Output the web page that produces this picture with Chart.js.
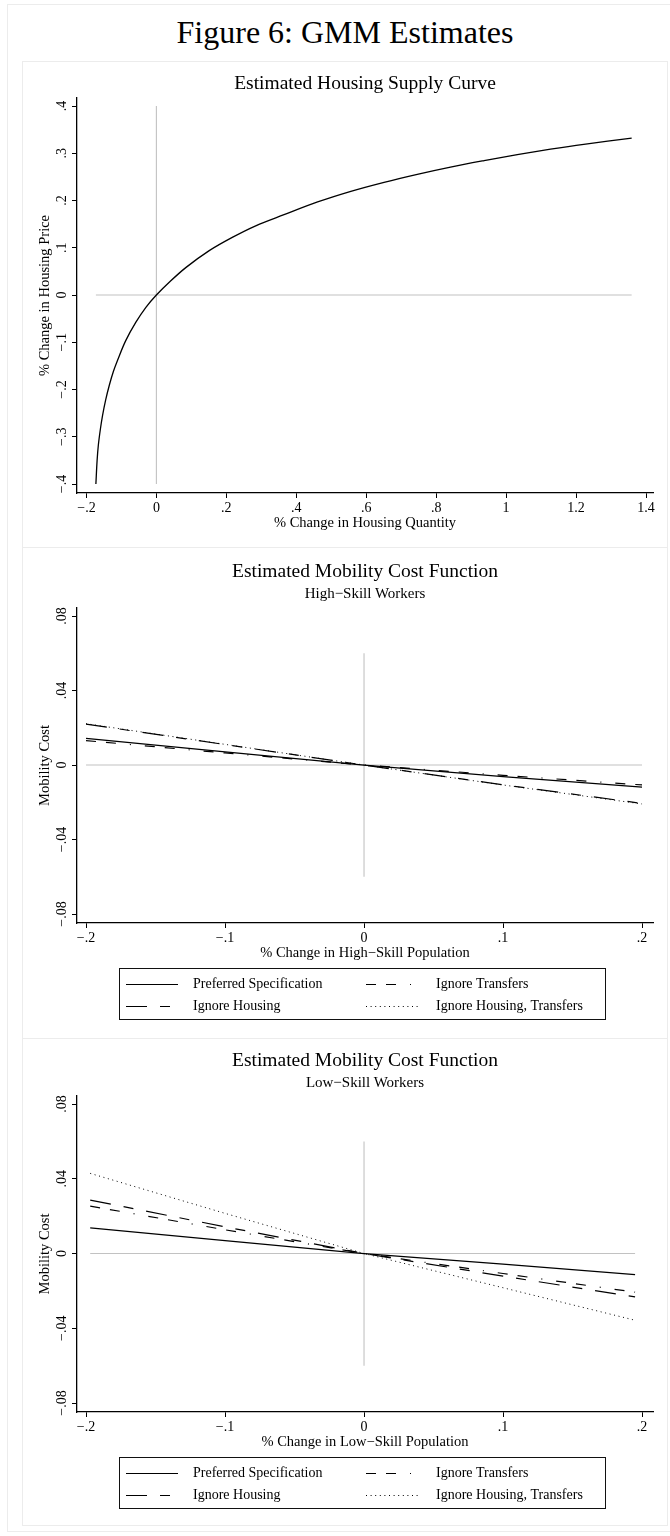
<!DOCTYPE html>
<html><head><meta charset="utf-8">
<script src="https://cdn.jsdelivr.net/npm/chart.js@4.4.1/dist/chart.umd.min.js"></script>
<style>
html,body{margin:0;padding:0;background:#fff;}
body{width:670px;height:1536px;position:relative;overflow:hidden;font-family:'Liberation Serif','Times New Roman',serif;color:#000;}
.frame{position:absolute;left:7px;top:4px;width:700px;height:1526px;border:1px solid #ececec;}
.panel{position:absolute;left:22px;width:646px;border:1px solid #ececec;box-sizing:border-box;background:#fff;}
canvas{position:absolute;left:22px;}
.t{position:absolute;white-space:nowrap;text-align:center;line-height:1;}
.main{left:22px;width:646px;top:16px;font-size:32px;}
.pt{left:77px;width:576px;font-size:19.5px;}
.st{left:77px;width:576px;font-size:15px;}
</style></head><body>
<div class="frame"></div>
<div class="t main">Figure 6: GMM Estimates</div>
<div class="panel" style="top:61px;height:487px"></div>
<div class="panel" style="top:547px;height:492px"></div>
<div class="panel" style="top:1038px;height:488px"></div>
<canvas id="c1" width="646" height="486" style="top:61px"></canvas>
<canvas id="c2" width="646" height="491" style="top:547px"></canvas>
<canvas id="c3" width="646" height="487" style="top:1038px"></canvas>
<div class="t pt" style="top:73px">Estimated Housing Supply Curve</div>
<div class="t pt" style="top:561px">Estimated Mobility Cost Function</div>
<div class="t st" style="top:586px">High−Skill Workers</div>
<div class="t pt" style="top:1050px">Estimated Mobility Cost Function</div>
<div class="t st" style="top:1075px">Low−Skill Workers</div>
<script>
// ---------- Data ----------
// Panel 1: housing supply curve
const SUPPLY_QTY   = [-0.173, -0.1695, -0.166, -0.16, -0.154, -0.145, -0.135, -0.123, -0.111, -0.088, -0.059, -0.030, 0, 0.036, 0.084, 0.150, 0.217, 0.284, 0.365, 0.461, 0.556, 0.651, 0.746, 0.841, 0.937, 1.032, 1.127, 1.222, 1.359];
const SUPPLY_PRICE = [-0.4, -0.35, -0.318, -0.283, -0.255, -0.222, -0.192, -0.162, -0.138, -0.097, -0.058, -0.026, 0, 0.0265, 0.058, 0.0935, 0.122, 0.1465, 0.170, 0.197, 0.2195, 0.2386, 0.2555, 0.2708, 0.2845, 0.2972, 0.3087, 0.319, 0.332];
const SUPPLY_HREF_X = [-0.173, 1.359];
const SUPPLY_VREF_Y = [-0.4, 0.4];
const SUPPLY_X_TICKS  = [-0.2, 0, 0.2, 0.4, 0.6, 0.8, 1, 1.2, 1.4];
const SUPPLY_X_LABELS = ['−.2', '0', '.2', '.4', '.6', '.8', '1', '1.2', '1.4'];
const SUPPLY_Y_TICKS  = [-0.4, -0.3, -0.2, -0.1, 0, 0.1, 0.2, 0.3, 0.4];
const SUPPLY_Y_LABELS = ['−.4', '−.3', '−.2', '−.1', '0', '.1', '.2', '.3', '.4'];

// Series names (legend order)
const SERIES_LABELS = ['Preferred Specification', 'Ignore Transfers', 'Ignore Housing', 'Ignore Housing, Transfers'];

// Panel 2: high-skill mobility cost
const HS_POP = [-0.2, -0.1, 0, 0.1, 0.2];
const HS_PREFERRED         = [0.0143, 0.0071, 0, -0.0062, -0.0119];
const HS_IGNORE_TRANSFERS  = [0.0131, 0.0065, 0, -0.0055, -0.0107];
const HS_IGNORE_HOUSING    = [0.0220, 0.0110, 0, -0.0106, -0.0206];
const HS_IGNORE_BOTH       = [0.0222, 0.0111, 0, -0.0107, -0.0209];
const HS_HREF_X = [-0.2, 0.2];

// Panel 3: low-skill mobility cost
const LS_POP = [-0.197, -0.1, 0, 0.1, 0.195];
const LS_PREFERRED         = [0.01375, 0.0069, 0, -0.0057, -0.0113];
const LS_IGNORE_TRANSFERS  = [0.0254, 0.0127, 0, -0.0107, -0.0207];
const LS_IGNORE_HOUSING    = [0.0286, 0.0143, 0, -0.0121, -0.0232];
const LS_IGNORE_BOTH       = [0.0429, 0.0215, 0, -0.0183, -0.0357];
const LS_HREF_X = [-0.197, 0.195];

const MOB_VREF_Y = [-0.06, 0.06];
const MOB_X_TICKS  = [-0.2, -0.1, 0, 0.1, 0.2];
const MOB_X_LABELS = ['−.2', '−.1', '0', '.1', '.2'];
const MOB_Y_TICKS  = [-0.08, -0.04, 0, 0.04, 0.08];
const MOB_Y_LABELS = ['−.08', '−.04', '0', '.04', '.08'];

// ---------- Styles ----------
const REF_COLOR = '#c2c2c2';
const SERIES_STYLES = [
  {dash: [], width: 1.2},
  {dash: [10, 10, 10, 14, 1, 14], width: 1.2},
  {dash: [21, 13, 10, 13], width: 1.2},
  {dash: [1, 3.6], width: 1}
];

Chart.defaults.font.family = "'Liberation Serif','Times New Roman',serif";
Chart.defaults.color = '#000';

function pts(xs, ys) { return xs.map((x, i) => ({x: x, y: ys[i]})); }

function refSets(hx, vy) {
  return [
    {label: 'hline', ref: true, data: pts(hx, hx.map(() => 0)), borderColor: REF_COLOR, borderWidth: 1.1, pointRadius: 0, tension: 0},
    {label: 'vline', ref: true, data: pts(vy.map(() => 0), vy), borderColor: REF_COLOR, borderWidth: 1.1, pointRadius: 0, tension: 0}
  ];
}

function seriesSets(xs, arrays) {
  return arrays.map((ys, i) => ({
    label: SERIES_LABELS[i],
    data: pts(xs, ys),
    borderColor: '#000',
    borderWidth: SERIES_STYLES[i].width,
    borderDash: SERIES_STYLES[i].dash,
    pointRadius: 0,
    tension: 0
  }));
}

function scalesFor(o) {
  return {
    x: {
      type: 'linear', min: o.xMin, max: o.xMax,
      afterBuildTicks: s => { s.ticks = o.xTicks.map(v => ({value: v})); },
      afterFit: s => { s.height = 39; s.paddingLeft = 0; s.paddingRight = 0; },
      ticks: {autoSkip: false, maxRotation: 0, minRotation: 0, padding: 2, color: '#000', font: {size: 14},
        callback: (v, i) => o.xLabels[i]},
      grid: {display: true, drawOnChartArea: false, drawTicks: true, tickLength: 5, tickColor: '#000', tickWidth: 1},
      border: {display: true, color: '#000', width: 1.3},
      title: {display: true, text: o.xTitle, color: '#000', font: {size: 14.5}, padding: {top: 0, bottom: 0}}
    },
    y: {
      type: 'linear', min: o.yMin, max: o.yMax,
      afterBuildTicks: s => { s.ticks = o.yTicks.map(v => ({value: v})); },
      afterFit: s => { s.width = 55; s.paddingTop = 0; s.paddingBottom = 0; },
      ticks: {autoSkip: false, minRotation: 90, maxRotation: 90, crossAlign: 'center', padding: o.yPad, color: '#000', font: {size: 14},
        callback: (v, i) => o.yLabels[i]},
      grid: {display: true, drawOnChartArea: false, drawTicks: true, tickLength: 5, tickColor: '#000', tickWidth: 1},
      border: {display: true, color: '#000', width: 1.3},
      title: {display: true, text: o.yTitle, color: '#000', font: {size: 14.5}, padding: {top: 14.3, bottom: 0}}
    }
  };
}

// Stata-style boxed two-column legend drawn below the x-axis title
const stataLegend = {
  id: 'stataLegend',
  afterDraw(chart, args, opts) {
    if (!opts || !opts.display) return;
    const ctx = chart.ctx;
    const top = chart.scales.x.bottom + opts.gap;
    ctx.save();
    ctx.strokeStyle = '#111';
    ctx.lineWidth = 1;
    ctx.setLineDash([]);
    ctx.strokeRect(opts.left + 0.5, Math.round(top) + 0.5, opts.width, opts.height);
    const items = chart.data.datasets.filter(d => !d.ref);
    items.forEach((d, i) => {
      const row = Math.floor(i / 2), col = i % 2;
      const y = Math.round(top + opts.rows[row]) + 0.5;
      const x0 = opts.sampleX[col];
      ctx.save();
      ctx.strokeStyle = d.borderColor;
      ctx.lineWidth = d.borderWidth;
      ctx.setLineDash(d.borderDash || []);
      ctx.beginPath();
      ctx.moveTo(x0, y);
      ctx.lineTo(x0 + opts.sampleLen, y);
      ctx.stroke();
      ctx.restore();
      ctx.fillStyle = '#000';
      ctx.font = opts.fontSize + "px 'Liberation Serif','Times New Roman',serif";
      ctx.textBaseline = 'middle';
      ctx.textAlign = 'left';
      ctx.fillText(d.label, opts.textX[col], y);
    });
    ctx.restore();
  }
};

const LEGEND_OPTS = {display: true, left: 97, width: 486, gap: 6, height: 51, rows: [16, 38],
  sampleX: [104, 344], sampleLen: 52, textX: [171, 414], fontSize: 14};

function makeChart(id, datasets, scales, padding, legend) {
  return new Chart(document.getElementById(id), {
    type: 'line',
    data: {datasets: datasets},
    options: {
      responsive: false, animation: false, devicePixelRatio: 1, events: [],
      layout: {padding: padding},
      scales: scales,
      plugins: {legend: {display: false}, tooltip: {enabled: false}, title: {display: false},
        stataLegend: legend || {display: false}}
    },
    plugins: [stataLegend]
  });
}

// Panel 1
makeChart('c1',
  [{label: 'Housing supply', data: pts(SUPPLY_QTY, SUPPLY_PRICE), borderColor: '#000', borderWidth: 1.3,
    pointRadius: 0, tension: 0.35}].concat(refSets(SUPPLY_HREF_X, SUPPLY_VREF_Y)),
  scalesFor({xMin: -0.227, xMax: 1.42, yMin: -0.419, yMax: 0.417,
    xTicks: SUPPLY_X_TICKS, xLabels: SUPPLY_X_LABELS, yTicks: SUPPLY_Y_TICKS, yLabels: SUPPLY_Y_LABELS,
    xTitle: '% Change in Housing Quantity', yTitle: '% Change in Housing Price', yPad: 0.8}),
  {top: 37, right: 15, bottom: 15, left: 0});

// Panel 2
makeChart('c2',
  seriesSets(HS_POP, [HS_PREFERRED, HS_IGNORE_TRANSFERS, HS_IGNORE_HOUSING, HS_IGNORE_BOTH]).concat(refSets(HS_HREF_X, MOB_VREF_Y)),
  scalesFor({xMin: -0.2065, xMax: 0.2079, yMin: -0.0848, yMax: 0.0843,
    xTicks: MOB_X_TICKS, xLabels: MOB_X_LABELS, yTicks: MOB_Y_TICKS, yLabels: MOB_Y_LABELS,
    xTitle: '% Change in High−Skill Population', yTitle: 'Mobility Cost', yPad: -2.7}),
  {top: 61, right: 15, bottom: 76, left: 0}, LEGEND_OPTS);

// Panel 3
makeChart('c3',
  seriesSets(LS_POP, [LS_PREFERRED, LS_IGNORE_TRANSFERS, LS_IGNORE_HOUSING, LS_IGNORE_BOTH]).concat(refSets(LS_HREF_X, MOB_VREF_Y)),
  scalesFor({xMin: -0.2065, xMax: 0.2079, yMin: -0.0848, yMax: 0.0843,
    xTicks: MOB_X_TICKS, xLabels: MOB_X_LABELS, yTicks: MOB_Y_TICKS, yLabels: MOB_Y_LABELS,
    xTitle: '% Change in Low−Skill Population', yTitle: 'Mobility Cost', yPad: -2.7}),
  {top: 58, right: 15, bottom: 74, left: 0}, LEGEND_OPTS);
</script>
</body></html>
